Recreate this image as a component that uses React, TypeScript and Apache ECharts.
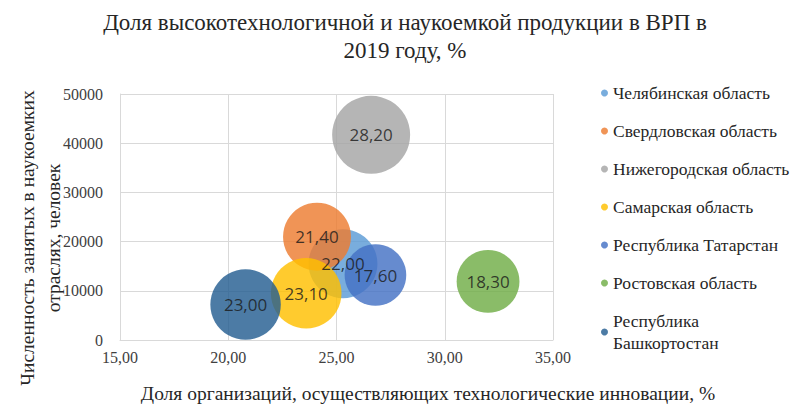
import React, { useEffect, useRef } from "react";
import * as echarts from "echarts";

const regions = [
  "Челябинская область",
  "Свердловская область",
  "Нижегородская область",
  "Самарская область",
  "Республика Татарстан",
  "Ростовская область",
  "Республика Башкортостан",
];
const xValues = [25.3, 24.1, 26.6, 23.6, 26.8, 32.0, 20.8];
const yValues = [15500, 21000, 41700, 9500, 13200, 11900, 7200];
const bubbleValues = [22.0, 21.4, 28.2, 23.1, 17.6, 18.3, 23.0];
const colors = ["#5B9BD5", "#ED7D31", "#A5A5A5", "#FFC000", "#4472C4", "#70AD47", "#255E91"];
const xTicks = { min: 15, max: 35, interval: 5 };
const yTicks = { min: 0, max: 50000, interval: 10000 };

const TEXT_FONT = "Liberation Serif, serif";
const SANS = "Open Sans";

export default function App() {
  const ref = useRef<HTMLDivElement>(null);
  useEffect(() => {
    if (!ref.current) return;
    const chart = echarts.init(ref.current, undefined, { renderer: "svg" });
    const maxV = Math.max(...bubbleValues);
    chart.setOption({
      animation: false,
      backgroundColor: "#ffffff",
      title: [
        {
          text: "Доля высокотехнологичной и наукоемкой продукции в ВРП в\n2019 году, %",
          left: 405,
          top: 8,
          padding: 0,
          textAlign: "center",
          textStyle: {
            fontFamily: TEXT_FONT,
            fontSize: 23,
            fontWeight: "normal",
            color: "#262626",
            lineHeight: 28,
          },
        },
        {
          text: "Доля организаций, осуществляющих технологические инновации, %",
          left: 428,
          top: 383,
          padding: 0,
          textAlign: "center",
          textStyle: {
            fontFamily: TEXT_FONT,
            fontSize: 19.5,
            fontWeight: "normal",
            color: "#262626",
            lineHeight: 20,
          },
        },
      ],
      graphic: [
        {
          type: "text",
          x: 40,
          y: 238,
          rotation: Math.PI / 2,
          style: {
            text: "Численность занятых в наукоемких\nотраслях, человек",
            font: "19.5px Liberation Serif, serif",
            fill: "#262626",
            align: "center",
            verticalAlign: "middle",
            lineHeight: 26,
          },
        },
      ],
      legend: {
        orient: "vertical",
        left: 596,
        top: 77,
        icon: "circle",
        itemWidth: 7,
        itemHeight: 7,
        itemGap: 16,
        data: regions,
        formatter: (n: string) => (n === "Республика Башкортостан" ? "Республика\nБашкортостан" : n),
        textStyle: {
          fontFamily: TEXT_FONT,
          fontSize: 17.5,
          color: "#262626",
          lineHeight: 22,
        },
      },
      grid: { left: 120, right: 243, top: 94, bottom: 65, outerBoundsMode: "none" },
      xAxis: {
        type: "value",
        min: xTicks.min,
        max: xTicks.max,
        interval: xTicks.interval,
        axisLine: { show: true, lineStyle: { color: "#D9D9D9" } },
        axisTick: { show: false },
        splitLine: { show: true, lineStyle: { color: "#D9D9D9" } },
        axisLabel: {
          fontFamily: TEXT_FONT,
          fontSize: 16,
          color: "#404040",
          margin: 9,
          formatter: (v: number) => v.toFixed(2).replace(".", ","),
        },
      },
      yAxis: {
        type: "value",
        min: yTicks.min,
        max: yTicks.max,
        interval: yTicks.interval,
        axisLine: { show: true, lineStyle: { color: "#D9D9D9" } },
        axisTick: { show: false },
        splitLine: { show: true, lineStyle: { color: "#D9D9D9" } },
        axisLabel: {
          fontFamily: TEXT_FONT,
          fontSize: 16,
          color: "#404040",
          margin: 17,
          formatter: (v: number) => String(v),
        },
      },
      series: regions.map((name, i) => ({
        name,
        type: "scatter",
        data: [[xValues[i], yValues[i], bubbleValues[i]]],
        symbolSize: (val: number[]) => 78 * Math.sqrt(val[2] / maxV),
        itemStyle: { color: colors[i], opacity: 0.82 },
        label: {
          show: true,
          position: "inside",
          fontFamily: SANS,
          fontSize: 17,
          color: "#1a1a1a",
          formatter: (p: any) => p.value[2].toFixed(2).replace(".", ","),
        },
        emphasis: { disabled: true },
      })),
    });
    return () => chart.dispose();
  }, []);
  return (
    <div
      ref={ref}
      style={{ position: "fixed", left: 0, top: 0, width: 796, height: 405 }}
    />
  );
}
